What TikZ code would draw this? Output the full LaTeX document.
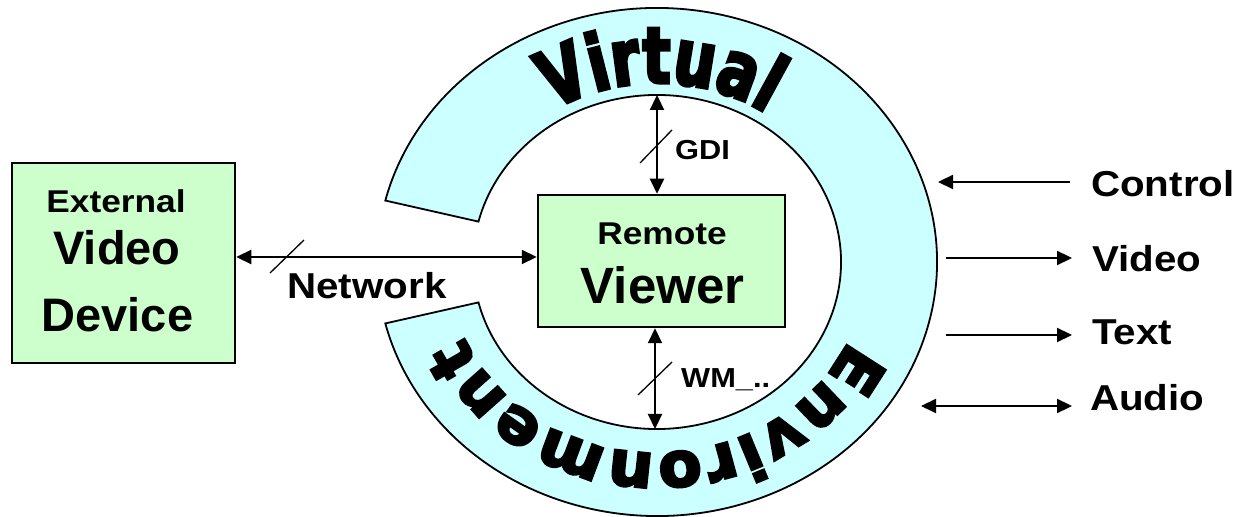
\documentclass[tikz,border=0pt]{standalone}
\usepackage{fontspec}
\setmainfont{Liberation Sans}
\newfontfamily\labn{Liberation Sans}
\newfontfamily\labw{Liberation Sans}[FakeStretch=1.12]
\newfontfamily\arcA{DejaVu Sans Bold}[FakeStretch=0.75, FakeBold=4]
\newfontfamily\arcB{DejaVu Sans Bold}[FakeStretch=1.0, FakeBold=4]
\usetikzlibrary{arrows.meta,calc,decorations.text}
\definecolor{ringfill}{HTML}{CCFFFF}
\definecolor{boxfill}{HTML}{CCFFCC}
\begin{document}
\begin{tikzpicture}[x=1pt,y=1pt,
  box/.style={draw=black, line width=2.5pt, fill=boxfill, inner sep=0pt},
  ring/.style={draw=black, line width=1.8pt, fill=ringfill},
  arr/.style={line width=2.2pt, -{Triangle[length=15pt,width=14pt]}},
  dbl/.style={line width=2.2pt, {Triangle[length=15pt,width=14pt]}-{Triangle[length=15pt,width=14pt]}},
  slash/.style={line width=1.3pt},
  lbl/.style={inner sep=0pt, anchor=base west, font=\labw\bfseries\fontsize{36}{40}\selectfont},
  small/.style={inner sep=0pt, anchor=base west, font=\labw\bfseries\fontsize{27.5}{30}\selectfont},
  mid/.style={inner sep=0pt, anchor=base, font=\labw\bfseries\fontsize{31.5}{34}\selectfont},
  big/.style={inner sep=0pt, anchor=base, font=\labn\bfseries\fontsize{47}{50}\selectfont}
]
\useasboundingbox (0,0) rectangle (1243,517);
\coordinate (C) at (657,255);

% ring
\draw[ring] ($(C)+(166:280pt and 254pt)$)
  arc[start angle=166, end angle=-166, x radius=280pt, y radius=254pt]
  -- ($(C)+(-166:184pt and 167pt)$)
  arc[start angle=-166, end angle=166, x radius=184pt, y radius=167pt]
  -- cycle;

% arc texts
\path[decorate, decoration={text along path,
   text={|\arcA\fontsize{78}{78}\selectfont|Virtual},
   text align={fit to path}}]
  ($(C)+(122:196pt and 179pt)$)
  arc[start angle=122, end angle=58, x radius=196pt, y radius=179pt];
\path[decorate, decoration={text along path,
   text={|\arcB\fontsize{63}{63}\selectfont|Environment},
   text align={fit to path}}]
  ($(C)+(-24:210pt and 191pt)$)
  arc[start angle=-24, end angle=-157, x radius=210pt, y radius=191pt];

% boxes
\node[box, minimum width=223pt, minimum height=200pt] (ext) at (123.5,254) {};
\node[box, minimum width=247pt, minimum height=132pt] (rv) at (661.5,256) {};

\node[mid] (extA) at (116,304) {External};
\node[big] (extB) at (117,252) {Video};
\node[big] (extC) at (117.5,185) {Device};
\node[mid] (rvA) at (662,272) {Remote};
\node[big, font=\labn\bfseries\fontsize{51}{54}\selectfont] (rvB) at (662.5,213) {Viewer};

% network
\coordinate (netc) at (380,260);
\draw[dbl] (ext.east |- netc) -- (rv.west |- netc);
\coordinate (ns1) at (270,244);
\coordinate (ns2) at (304,277);
\draw[slash] (ns1) -- (ns2);
\node[inner sep=0pt, anchor=base, font=\labw\bfseries\fontsize{36}{40}\selectfont] (net) at (367,218) {Network};

% GDI
\coordinate (gtop) at (657,422);
\draw[dbl] (gtop) -- (gtop |- rv.north);
\coordinate (gs1) at (640,354);
\coordinate (gs2) at (672,387);
\draw[slash] (gs1) -- (gs2);
\node[small] (gdi) at (675,357) {GDI};

% WM
\coordinate (wbot) at (655,88);
\draw[dbl] (wbot |- rv.south) -- (wbot);
\coordinate (ws1) at (638,122);
\coordinate (ws2) at (672,155);
\draw[slash] (ws1) -- (ws2);
\node[small] (wm) at (681,129) {WM\_..};

% right side
\node[lbl] (ctl) at (1091,320) {Control};
\node[lbl] (vid) at (1092,245) {Video};
\node[lbl] (txt) at (1092,172) {Text};
\node[lbl] (aud) at (1090,106) {Audio};
\coordinate (c1) at (1070,335);
\coordinate (c2) at (938,335);
\coordinate (v1) at (946,259);
\coordinate (v2) at (1072,259);
\coordinate (t1) at (946,182);
\coordinate (t2) at (1072,182);
\coordinate (a1) at (921,111);
\coordinate (a2) at (1072,111);
\draw[arr] (c1) -- (c2);
\draw[arr] (v1) -- (v2);
\draw[arr] (t1) -- (t2);
\draw[dbl] (a1) -- (a2);
\end{tikzpicture}
\end{document}
